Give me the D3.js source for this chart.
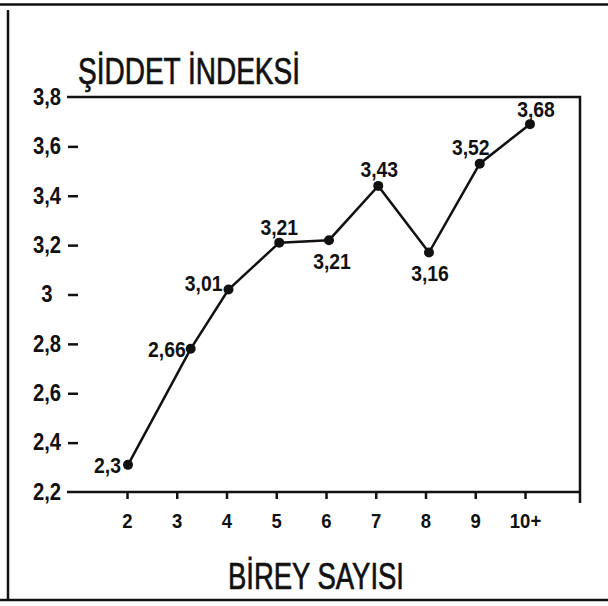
<!DOCTYPE html>
<html>
<head>
<meta charset="utf-8">
<script src="https://cdn.jsdelivr.net/npm/d3@7"></script>
<style>
  body { margin: 0; background: #fff; }
  text { font-family: "Liberation Sans", Arial, sans-serif; fill: #111; }
</style>
</head>
<body>
<div class="board"></div>
<script>
var WIDTH = 608;
var HEIGHT = 606;
var SQUEEZE = 0.88; // the lettering on the sheet is a narrow stencil face

// x categories (number of persons) and their tick labels
var categories = [2, 3, 4, 5, 6, 7, 8, 9, 10];
var categoryLabels = ['2', '3', '4', '5', '6', '7', '8', '9', '10+'];

// y ticks
var yTicks = [2.2, 2.4, 2.6, 2.8, 3.0, 3.2, 3.4, 3.6, 3.8];
var yTickLabels = ['2,2', '2,4', '2,6', '2,8', '3', '3,2', '3,4', '3,6', '3,8'];

// series, as drawn on the original sheet (x slightly off the ticks there)
var pointX = [2.02, 3.28, 4.04, 5.06, 6.06, 7.05, 8.07, 9.09, 10.1];
var pointY = [2.31, 2.78, 3.02, 3.21, 3.22, 3.44, 3.17, 3.53, 3.69];
var pointLabels = ['2,3', '2,66', '3,01', '3,21', '3,21', '3,43', '3,16', '3,52', '3,68'];

// where each value label sits: [dx, dy, anchor]
var labelPlace = [
  [-7, 8, 'end'], [-5, 8, 'end'], [-6, 1, 'end'],
  [0, -8, 'middle'], [3, 29, 'middle'], [1, -9, 'middle'],
  [1, 28, 'middle'], [-9, -9, 'middle'], [6, -7, 'middle']
];

var x = d3.scaleLinear().domain([2, 10]).range([127, 525]);
var y = d3.scaleLinear().domain([2.2, 3.8]).range([492, 97]);

var svg = d3.select('.board')
  .append('svg')
  .attr('width', WIDTH)
  .attr('height', HEIGHT);

// outer sheet frame
svg.append('path')
  .attr('d', 'M0,4.5H608M8,10V599M0,600H608')
  .attr('fill', 'none')
  .attr('stroke', '#111')
  .attr('stroke-width', 2.5);

// plot box: top, right, bottom
svg.append('path')
  .attr('d', 'M67,' + y(3.8) + 'H580V503M67,' + y(2.2) + 'H580')
  .attr('fill', 'none')
  .attr('stroke', '#111')
  .attr('stroke-width', 2.5);

var xAxis = svg.append('g')
  .attr('transform', 'translate(0,' + y(2.2) + ')')
  .call(d3.axisBottom(x)
    .tickValues(categories)
    .tickFormat(function(d, i) { return categoryLabels[i]; })
    .tickSize(7)
    .tickPadding(14));
xAxis.select('.domain').remove();
xAxis.selectAll('line').attr('stroke', '#111').attr('stroke-width', 2.5);
xAxis.selectAll('text')
  .attr('font-size', 21)
  .attr('font-weight', 'bold')
  .attr('font-family', null)
  .attr('transform', 'scale(' + SQUEEZE + ',1)');

var yAxis = svg.append('g')
  .attr('transform', 'translate(78,0)')
  .call(d3.axisLeft(y)
    .tickValues(yTicks)
    .tickFormat(function(d, i) { return yTickLabels[i]; })
    .tickSize(10));
yAxis.select('.domain').remove();
yAxis.selectAll('line')
  .attr('stroke', '#111')
  .attr('stroke-width', 2.5)
  .attr('display', function(d) { return (d === 2.2 || d === 3.8) ? 'none' : null; });
yAxis.selectAll('text')
  .attr('x', -31 / SQUEEZE)
  .attr('text-anchor', 'middle')
  .attr('font-size', 23)
  .attr('font-weight', 'bold')
  .attr('font-family', null)
  .attr('transform', 'scale(' + SQUEEZE + ',1)');

var pts = pointX.map(function(v, i) { return [v, pointY[i]]; });

svg.append('path')
  .datum(pts)
  .attr('d', d3.line()
    .x(function(d) { return x(d[0]); })
    .y(function(d) { return y(d[1]); }))
  .attr('fill', 'none')
  .attr('stroke', '#111')
  .attr('stroke-width', 2.5);

svg.selectAll('circle')
  .data(pts)
  .enter()
  .append('circle')
  .attr('cx', function(d) { return x(d[0]); })
  .attr('cy', function(d) { return y(d[1]); })
  .attr('r', 5)
  .attr('fill', '#111');

svg.selectAll('.vlabel')
  .data(pts)
  .enter()
  .append('text')
  .attr('class', 'vlabel')
  .attr('transform', function(d, i) {
    return 'translate(' + (x(d[0]) + labelPlace[i][0]) + ',' + (y(d[1]) + labelPlace[i][1]) + ') scale(' + SQUEEZE + ',1)';
  })
  .attr('text-anchor', function(d, i) { return labelPlace[i][2]; })
  .attr('font-size', 22)
  .attr('font-weight', 'bold')
  .text(function(d, i) { return pointLabels[i]; });

svg.append('text')
  .attr('x', 78)
  .attr('y', 84)
  .attr('font-size', 37)
  .attr('stroke', '#111')
  .attr('stroke-width', 0.7)
  .attr('textLength', 222)
  .attr('lengthAdjust', 'spacingAndGlyphs')
  .text('ŞİDDET İNDEKSİ');

svg.append('text')
  .attr('x', 228)
  .attr('y', 589)
  .attr('font-size', 37)
  .attr('stroke', '#111')
  .attr('stroke-width', 0.7)
  .attr('textLength', 176)
  .attr('lengthAdjust', 'spacingAndGlyphs')
  .text('BİREY SAYISI');
</script>
</body>
</html>
